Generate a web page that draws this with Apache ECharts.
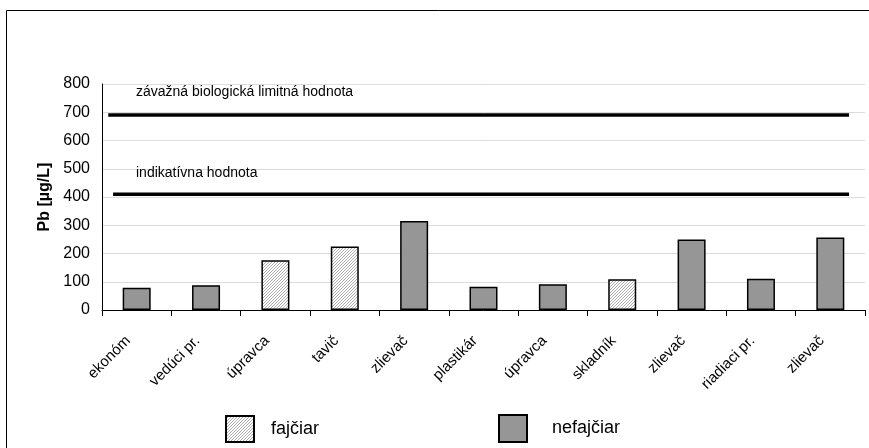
<!DOCTYPE html>
<html>
<head>
<meta charset="utf-8">
<script src="https://cdn.jsdelivr.net/npm/echarts@6/dist/echarts.min.js"></script>
<style>
  html, body { margin: 0; padding: 0; background: #fff; }
  #chart { width: 869px; height: 448px; }
</style>
</head>
<body>
<div id="chart"></div>
<script>
// Blood lead (Pb) by occupation, smokers vs non-smokers
const categories = ['ekonóm', 'vedúci pr.', 'úpravca', 'tavič', 'zlievač', 'plastikár',
                    'úpravca', 'skladník', 'zlievač', 'riadiaci pr.', 'zlievač'];
const smokers    = [null, null, 176, 225, null, null, null, 109, null, null, null];
const nonSmokers = [79, 88, null, null, 315, 82, 91, null, 250, 111, 257];
const yTicks = { min: 0, max: 800, step: 100 };

// reference limits
const bindingLimit = 690;     // závažná biologická limitná hodnota
const indicativeLimit = 410;  // indikatívna hodnota
const bindingSpan = [0.09, 10.77];
const indicativeSpan = [0.16, 10.77];

const FONT = '"Liberation Sans", Arial, sans-serif';

// fine diagonal hatch used for the smokers' bars
function hatch() {
  const c = document.createElement('canvas');
  c.width = 3; c.height = 3;
  const g = c.getContext('2d');
  g.fillStyle = '#ffffff';
  g.fillRect(0, 0, 3, 3);
  g.fillStyle = '#acacac';
  for (let i = 0; i < 3; i++) g.fillRect(i, 2 - i, 1, 1);
  return { image: c, repeat: 'repeat' };
}

const chart = echarts.init(document.getElementById('chart'), null, { renderer: 'canvas' });

chart.setOption({
  animation: false,
  backgroundColor: '#ffffff',
  textStyle: { fontFamily: FONT, color: '#000' },
  grid: { left: 102, top: 84, right: 4, bottom: 138, containLabel: false },
  legend: [
    {
      data: ['fajčiar'], left: 225, top: 415, padding: 0, itemWidth: 28, itemHeight: 26,
      icon: 'rect', selectedMode: false,
      textStyle: { fontFamily: FONT, fontSize: 18, color: '#000', padding: [0, 0, 0, 12] }
    },
    {
      data: ['nefajčiar'], left: 498, top: 414, padding: 0, itemWidth: 28, itemHeight: 27,
      icon: 'rect', selectedMode: false,
      textStyle: { fontFamily: FONT, fontSize: 18, color: '#000', padding: [0, 0, 0, 20] }
    }
  ],
  xAxis: [
    {
      type: 'category',
      data: categories,
      boundaryGap: true,
      axisLine: { lineStyle: { color: '#000', width: 1 } },
      axisTick: { show: true, alignWithLabel: false, length: 6, lineStyle: { color: '#000' } },
      axisLabel: {
        rotate: 45, interval: 0, fontFamily: FONT, fontSize: 15, color: '#000',
        margin: 20, padding: [0, 12, 0, 0]
      },
      splitLine: { show: false }
    },
    {
      type: 'value', min: 0, max: categories.length, show: false
    }
  ],
  yAxis: {
    type: 'value',
    min: yTicks.min, max: yTicks.max, interval: yTicks.step,
    name: 'Pb [µg/L]',
    nameLocation: 'middle',
    nameRotate: 90,
    nameGap: 48,
    nameTextStyle: { fontFamily: FONT, fontSize: 16, fontWeight: 'bold', color: '#000' },
    axisLine: { show: true, lineStyle: { color: '#000', width: 1 } },
    axisTick: { show: false },
    axisLabel: { fontFamily: FONT, fontSize: 16, color: '#000', margin: 12 },
    splitLine: { show: true, lineStyle: { color: '#dcdcdc', width: 1 } }
  },
  series: [
    {
      name: 'fajčiar', type: 'bar', data: smokers, barWidth: 28, barGap: '-100%',
      itemStyle: { color: hatch(), borderColor: '#000', borderWidth: 1.5 }
    },
    {
      name: 'nefajčiar', type: 'bar', data: nonSmokers, barWidth: 28, barGap: '-100%',
      itemStyle: { color: '#969696', borderColor: '#000', borderWidth: 1.5 }
    },
    {
      name: 'bindingLimit', type: 'line', xAxisIndex: 1, symbol: 'none', silent: true,
      data: bindingSpan.map(x => [x, bindingLimit]),
      lineStyle: { color: '#000', width: 3.5 }
    },
    {
      name: 'indicativeLimit', type: 'line', xAxisIndex: 1, symbol: 'none', silent: true,
      data: indicativeSpan.map(x => [x, indicativeLimit]),
      lineStyle: { color: '#000', width: 3.5 }
    }
  ],
  graphic: [
    {
      type: 'polyline', silent: true, z: 100,
      shape: { points: [[6.5, 460], [6.5, 10.5], [880, 10.5]] },
      style: { fill: 'none', stroke: '#000', lineWidth: 1 }
    },
    {
      type: 'text', z: 100,
      style: {
        x: 136, y: 92, verticalAlign: 'middle',
        text: 'závažná biologická limitná hodnota', font: '14px ' + FONT, fill: '#000'
      }
    },
    {
      type: 'text', z: 100,
      style: {
        x: 136, y: 173, verticalAlign: 'middle',
        text: 'indikatívna hodnota', font: '14px ' + FONT, fill: '#000'
      }
    }
  ]
});
</script>
</body>
</html>
